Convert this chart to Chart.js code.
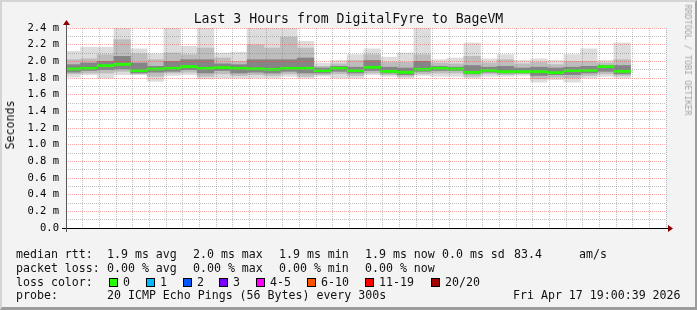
<!DOCTYPE html>
<html>
<head>
<meta charset="utf-8">
<script src="https://cdn.jsdelivr.net/npm/chart.js@4.4.1/dist/chart.umd.min.js"></script>
<style>
  body { margin: 0; background: #f3f3f3; }
  #wrap { position: relative; width: 697px; height: 310px; background: #f3f3f3; overflow: hidden; font-family: 'DejaVu Sans Mono', monospace; color: #111; }
  #frame { position: absolute; left: 0; top: 0; width: 697px; height: 310px; box-sizing: border-box; border-top: 2px solid #d4d4d4; border-left: 2px solid #d4d4d4; border-right: 2px solid #9c9c9c; border-bottom: 3px solid #9c9c9c; pointer-events: none; }
  .t { position: absolute; white-space: pre; font-size: 11.6px; line-height: 14px; }
  .box { position: absolute; width: 9px; height: 9px; box-sizing: border-box; border: 1px solid #000; top: 278px; }
  #title { position: absolute; left: 0; width: 697px; top: 11px; text-align: center; font-size: 13.2px; line-height: 16px; white-space: pre; }
  #ylab { position: absolute; left: 10px; top: 125px; transform: translate(-50%, -50%) rotate(-90deg); font-size: 11.6px; line-height: 14px; white-space: pre; }
  #rrd { position: absolute; left: 688px; top: 60px; transform: translate(-50%, -50%) rotate(90deg); font-size: 8.4px; line-height: 10px; color: #a4a4a4; white-space: pre; }
</style>
</head>
<body>
<div id="wrap">
  <canvas id="smoke" width="697" height="310"></canvas>
  <div id="title">Last 3 Hours from DigitalFyre to BageVM</div>
  <div id="ylab">Seconds</div>
  <div id="rrd">RRDTOOL / TOBI OETIKER</div>

  <div class="t" style="left:16px;top:247px">median rtt:</div>
  <div class="t" style="left:107px;top:247px">1.9 ms avg</div>
  <div class="t" style="left:193px;top:247px">2.0 ms max</div>
  <div class="t" style="left:279px;top:247px">1.9 ms min</div>
  <div class="t" style="left:365px;top:247px">1.9 ms now</div>
  <div class="t" style="left:442px;top:247px">0.0 ms sd</div>
  <div class="t" style="left:514px;top:247px">83.4</div>
  <div class="t" style="left:579px;top:247px">am/s</div>

  <div class="t" style="left:16px;top:261px">packet loss:</div>
  <div class="t" style="left:107px;top:261px">0.00 % avg</div>
  <div class="t" style="left:193px;top:261px">0.00 % max</div>
  <div class="t" style="left:279px;top:261px">0.00 % min</div>
  <div class="t" style="left:365px;top:261px">0.00 % now</div>

  <div class="t" style="left:16px;top:275px">loss color:</div>
  <div id="lossLegend"></div>

  <div class="t" style="left:16px;top:288px">probe:</div>
  <div class="t" style="left:107px;top:288px">20 ICMP Echo Pings (56 Bytes) every 300s</div>
  <div class="t" style="left:513px;top:288px">Fri Apr 17 19:00:39 2026</div>
  <div id="frame"></div>
</div>
<script>
// 5 minute steps, start time of each step
const slotStarts = ['16:00', '16:05', '16:10', '16:15', '16:20', '16:25', '16:30', '16:35', '16:40', '16:45',
    '16:50', '16:55', '17:00', '17:05', '17:10', '17:15', '17:20', '17:25', '17:30', '17:35',
    '17:40', '17:45', '17:50', '17:55', '18:00', '18:05', '18:10', '18:15', '18:20', '18:25',
    '18:30', '18:35', '18:40', '18:45'];

// rtt in ms
const rttMax = [2.12, 2.17, 2.17, 2.40, 2.15, 2.09, 2.40, 2.18, 2.40, 2.10,
    2.11, 2.40, 2.40, 2.40, 2.24, 1.98, 2.01, 2.08, 2.15, 2.05,
    2.10, 2.40, 2.02, 2.04, 2.22, 2.03, 2.08, 2.01, 2.03, 2.01,
    2.08, 2.15, 2.01, 2.22];
const rttHi2 = [2.02, 2.03, 2.08, 2.26, 2.09, 2.02, 2.10, 2.08, 2.16, 2.04,
    2.00, 2.20, 2.16, 2.29, 2.16, 1.94, 1.97, 2.01, 2.08, 1.99,
    1.99, 2.08, 1.98, 1.97, 2.06, 1.98, 2.02, 1.97, 1.99, 1.96,
    2.00, 2.00, 1.98, 2.02];
const rttHi3 = [1.96, 1.98, 2.00, 2.06, 1.98, 1.94, 2.00, 2.02, 2.02, 1.97,
    1.96, 2.02, 2.02, 2.02, 2.04, 1.92, 1.94, 1.93, 2.01, 1.93,
    1.92, 2.00, 1.94, 1.93, 1.95, 1.93, 1.94, 1.92, 1.93, 1.92,
    1.93, 1.94, 1.95, 1.95];
const rttMedian = [1.908, 1.916, 1.948, 1.964, 1.888, 1.908, 1.916, 1.936, 1.916, 1.924,
    1.916, 1.910, 1.904, 1.916, 1.916, 1.888, 1.916, 1.888, 1.928, 1.880,
    1.868, 1.904, 1.916, 1.908, 1.868, 1.892, 1.876, 1.876, 1.876, 1.864,
    1.888, 1.892, 1.936, 1.880];
const rttLo3 = [1.87, 1.89, 1.90, 1.91, 1.86, 1.87, 1.88, 1.90, 1.86, 1.89,
    1.86, 1.87, 1.86, 1.88, 1.86, 1.86, 1.88, 1.86, 1.89, 1.86,
    1.84, 1.88, 1.89, 1.89, 1.85, 1.87, 1.86, 1.86, 1.83, 1.84,
    1.84, 1.86, 1.88, 1.85];
const rttLo2 = [1.85, 1.86, 1.86, 1.88, 1.85, 1.82, 1.86, 1.87, 1.82, 1.85,
    1.83, 1.84, 1.83, 1.85, 1.82, 1.84, 1.85, 1.83, 1.86, 1.84,
    1.82, 1.85, 1.86, 1.86, 1.82, 1.85, 1.84, 1.85, 1.79, 1.81,
    1.80, 1.83, 1.85, 1.83];
const rttMin = [1.81, 1.84, 1.80, 1.84, 1.84, 1.76, 1.83, 1.84, 1.79, 1.80,
    1.80, 1.80, 1.80, 1.82, 1.80, 1.82, 1.80, 1.80, 1.84, 1.82,
    1.80, 1.83, 1.82, 1.82, 1.80, 1.82, 1.82, 1.83, 1.75, 1.78,
    1.75, 1.80, 1.82, 1.80];

const xTickLabels = ['16:20', '16:40', '17:00', '17:20', '17:40', '18:00', '18:20', '18:40', '19:00'];
const yTickLabels = ['0.0', '0.2 m', '0.4 m', '0.6 m', '0.8 m', '1.0 m', '1.2 m', '1.4 m', '1.6 m', '1.8 m', '2.0 m', '2.2 m', '2.4 m'];

const lossNames = ['0', '1', '2', '3', '4-5', '6-10', '11-19', '20/20'];
const lossColors = ['#26ff00', '#00b8ff', '#0059ff', '#7a00ff', '#ff00fe', '#ff5500', '#ff0000', '#a10000'];
const lossBoxX = [109, 146, 183, 219, 256, 307, 365, 431];

// legend boxes
const lossLegend = document.getElementById('lossLegend');
lossNames.forEach((name, i) => {
    const b = document.createElement('div');
    b.className = 'box';
    b.style.left = lossBoxX[i] + 'px';
    b.style.background = lossColors[i];
    lossLegend.appendChild(b);
    const t = document.createElement('div');
    t.className = 't';
    t.style.left = (lossBoxX[i] + 14) + 'px';
    t.style.top = '275px';
    t.textContent = name;
    lossLegend.appendChild(t);
});

const T0 = 16 * 60;
const toMin = (s) => {
    const [h, m] = s.split(':').map(Number);
    return h * 60 + m - T0;
};
const slotMid = slotStarts.map(s => toMin(s) + 2.5);

function band(lo, hi) {
    return slotMid.map((x, i) => ({ x: x, y: [lo[i], hi[i]] }));
}

const MAJOR = 'rgba(255, 60, 60, 0.45)';
const MINOR = 'rgba(128, 128, 128, 0.5)';
const tickFont = { family: 'DejaVu Sans Mono', size: 10.5 };

const axesPlugin = {
    id: 'rrdAxes',
    beforeDraw(chart) {
        const { ctx, chartArea: a } = chart;
        ctx.save();
        ctx.fillStyle = '#ffffff';
        ctx.fillRect(a.left, a.top, a.right - a.left, a.bottom - a.top);
        ctx.restore();
    },
    afterDraw(chart) {
        const { ctx, chartArea: a } = chart;
        ctx.save();
        ctx.lineWidth = 1;
        ctx.strokeStyle = '#000';
        ctx.beginPath();
        ctx.moveTo(a.left - 4, a.bottom + 0.5);
        ctx.lineTo(a.right + 4, a.bottom + 0.5);
        ctx.stroke();
        ctx.strokeStyle = '#555';
        ctx.beginPath();
        ctx.moveTo(a.left + 0.5, a.bottom + 4);
        ctx.lineTo(a.left + 0.5, a.top - 4);
        ctx.stroke();
        ctx.fillStyle = '#8b0000';
        ctx.beginPath();
        ctx.moveTo(a.right + 2, a.bottom - 3);
        ctx.lineTo(a.right + 7, a.bottom + 0.5);
        ctx.lineTo(a.right + 2, a.bottom + 4);
        ctx.closePath();
        ctx.fill();
        ctx.beginPath();
        ctx.moveTo(a.left - 3, a.top - 3);
        ctx.lineTo(a.left + 0.5, a.top - 8);
        ctx.lineTo(a.left + 4, a.top - 3);
        ctx.closePath();
        ctx.fill();
        ctx.restore();
    }
};

// Chart.js draws the first dataset last (on top), so the median goes first
new Chart(document.getElementById('smoke').getContext('2d'), {
    type: 'bar',
    data: {
        datasets: [{
            label: 'median',
            data: slotMid.map((x, i) => ({ x: x, y: [rttMedian[i] - 0.013, rttMedian[i] + 0.013] })),
            backgroundColor: '#26ff00'
        }, {
            label: 'inner',
            data: band(rttLo3, rttHi3),
            backgroundColor: '#858585'
        }, {
            label: 'outer',
            data: band(rttLo2, rttHi2),
            backgroundColor: '#bdbdbd'
        }, {
            label: 'min-max',
            data: band(rttMin, rttMax),
            backgroundColor: '#dddddd'
        }]
    },
    options: {
        responsive: false,
        animation: false,
        events: [],
        devicePixelRatio: 1,
        grouped: false,
        barPercentage: 1,
        categoryPercentage: 1,
        borderWidth: 0,
        layout: { padding: { top: 28, right: 31, bottom: 0, left: 0 } },
        plugins: {
            legend: { display: false },
            tooltip: { enabled: false }
        },
        scales: {
            x: {
                type: 'linear',
                min: 0.65,
                max: 180.65,
                offset: false,
                afterFit: (s) => { s.height = 82; },
                grid: {
                    offset: false,
                    z: 1,
                    drawTicks: false,
                    color: (c) => (c.tick && c.tick.value % 20 === 0) ? MAJOR : MINOR
                },
                border: { display: false, dash: [1, 1] },
                ticks: {
                    stepSize: 5,
                    includeBounds: false,
                    autoSkip: false,
                    maxRotation: 0,
                    maxTicksLimit: 100,
                    padding: 5,
                    color: '#000',
                    font: tickFont,
                    callback: (v) => (v % 20 === 0) ? xTickLabels[v / 20 - 1] : ''
                }
            },
            y: {
                min: 0,
                max: 2.4,
                afterFit: (s) => { s.width = 66; },
                grid: {
                    z: 1,
                    drawTicks: false,
                    color: (c) => (c.tick && Math.round(c.tick.value * 10) % 2 === 0) ? MAJOR : MINOR
                },
                border: { display: false, dash: [1, 1] },
                ticks: {
                    stepSize: 0.1,
                    autoSkip: false,
                    maxTicksLimit: 100,
                    padding: 7,
                    color: '#000',
                    font: tickFont,
                    callback: (v) => {
                        const k = Math.round(v * 10);
                        return k % 2 ? '' : yTickLabels[k / 2];
                    }
                }
            }
        }
    },
    plugins: [axesPlugin]
});
</script>
</body>
</html>
